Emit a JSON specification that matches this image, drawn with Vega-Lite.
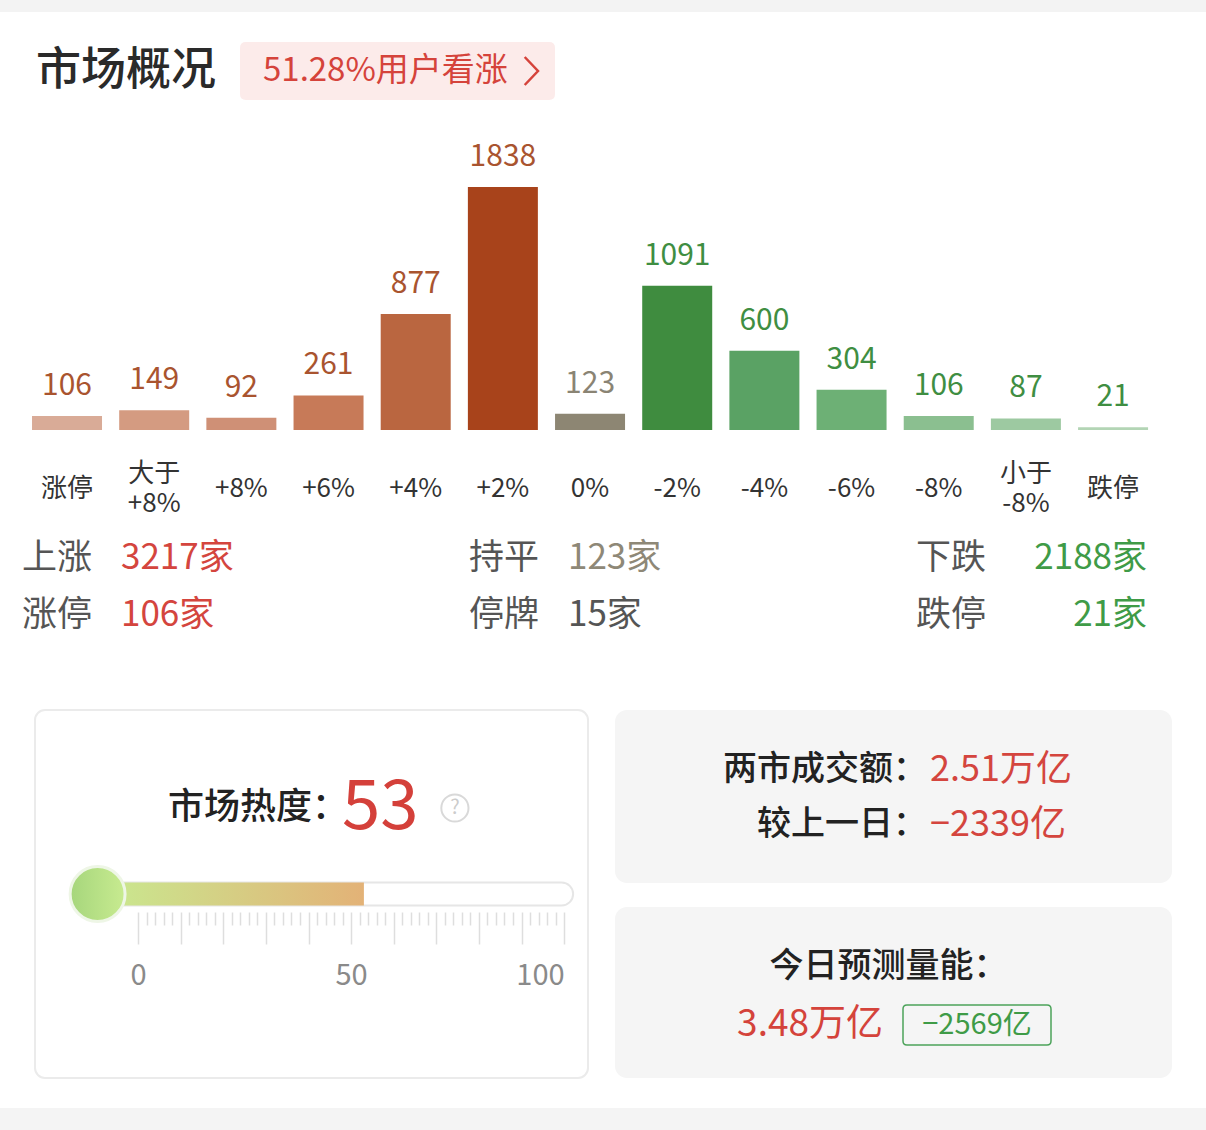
{
  "$schema": "https://vega.github.io/schema/vega-lite/v6.json",
  "background": "white",
  "padding": 0,
  "spacing": 0,
  "bounds": "flush",
  "config": {
    "view": {"stroke": null},
    "font": "Noto Sans CJK SC",
    "text": {"font": "Noto Sans CJK SC"},
    "axis": {"labelFont": "Noto Sans CJK SC"}
  },
  "vconcat": [
    {
      "width": 1206, "height": 12,
      "view": {"fill": "#f3f3f3", "stroke": null},
      "data": {"values": []},
      "mark": "text",
      "encoding": {}
    },
    {
      "width": 1206, "height": 118,
      "data": {"values": [{"标题": "市场概况", "看涨": "51.28%用户看涨"}]},
      "layer": [
        {
          "mark": {"type": "point", "shape": "M-0.962,-0.184H0.962Q1,-0.184 1,-0.146V0.146Q1,0.184 0.962,0.184H-0.962Q-1,0.184 -1,0.146V-0.146Q-1,-0.184 -0.962,-0.184Z", "size": 99225, "filled": true, "color": "#fcebea", "opacity": 1, "xOffset": 134.5},
          "encoding": {
            "x": {"field": "看涨", "type": "nominal", "axis": null, "scale": {"type": "point", "domain": ["市场概况", "51.28%用户看涨"], "range": [36, 263], "padding": 0}}
          }
        },
        {
          "mark": {"type": "text", "align": "left", "baseline": "middle", "fontSize": 33, "color": "#d5433b"},
          "encoding": {"x": {"field": "看涨", "type": "nominal", "axis": null}, "text": {"field": "看涨", "type": "nominal"}}
        },
        {
          "mark": {"type": "point", "shape": "M-0.45,-1L0.5,0L-0.45,1", "size": 784, "filled": false, "stroke": "#d5433b", "strokeWidth": 2.5, "opacity": 1, "xOffset": 268},
          "encoding": {"x": {"field": "看涨", "type": "nominal", "axis": null}}
        },
        {
          "mark": {"type": "text", "align": "left", "baseline": "middle", "fontSize": 45, "fontWeight": 500, "color": "#2a2a2a"},
          "encoding": {"x": {"field": "标题", "type": "nominal", "axis": null}, "text": {"field": "标题", "type": "nominal"}}
        }
      ]
    },
    {
      "width": 1206, "height": 300,
      "data": {"values": [
        {"区间": "涨停", "家数": 106, "方向": "涨"},
        {"区间": "大于 +8%", "家数": 149, "方向": "涨"},
        {"区间": "+8%", "家数": 92, "方向": "涨"},
        {"区间": "+6%", "家数": 261, "方向": "涨"},
        {"区间": "+4%", "家数": 877, "方向": "涨"},
        {"区间": "+2%", "家数": 1838, "方向": "涨"},
        {"区间": "0%", "家数": 123, "方向": "平"},
        {"区间": "-2%", "家数": 1091, "方向": "跌"},
        {"区间": "-4%", "家数": 600, "方向": "跌"},
        {"区间": "-6%", "家数": 304, "方向": "跌"},
        {"区间": "-8%", "家数": 106, "方向": "跌"},
        {"区间": "小于 -8%", "家数": 87, "方向": "跌"},
        {"区间": "跌停", "家数": 21, "方向": "跌"}
      ]},
      "encoding": {
        "x": {
          "field": "区间", "type": "nominal", "sort": null, "title": null,
          "scale": {"paddingInner": 0.197, "paddingOuter": 0.516, "align": 0.356},
          "axis": {
            "labelAngle": 0, "ticks": false, "domain": false, "labelPadding": 58, "labelFontSize": 26, "labelColor": "#333333",
            "labelExpr": "split(datum.label, ' ')", "labelLineHeight": 30,
            "labelBaseline": {"condition": {"test": "indexof(datum.label, ' ') >= 0", "value": "line-bottom"}, "value": "middle"}
          }
        },
        "y": {"field": "家数", "type": "quantitative", "scale": {"domain": [0, 2269], "nice": false}, "axis": null}
      },
      "layer": [
        {
          "mark": {"type": "bar"},
          "encoding": {
            "color": {"field": "区间", "type": "nominal", "legend": null,
              "scale": {
                "domain": ["涨停", "大于 +8%", "+8%", "+6%", "+4%", "+2%", "0%", "-2%", "-4%", "-6%", "-8%", "小于 -8%", "跌停"],
                "range": ["#d9ab97", "#d49b81", "#cf9076", "#c77a58", "#ba6640", "#a8431b", "#8d8673", "#3f8c3f", "#5aa264", "#6db075", "#8bbf90", "#9dc9a1", "#b3d5b5"]
              }}
          }
        },
        {
          "mark": {"type": "text", "baseline": "alphabetic", "dy": -21, "fontSize": 30},
          "encoding": {
            "text": {"field": "家数", "type": "quantitative"},
            "color": {"field": "方向", "type": "nominal", "legend": null,
              "scale": {"domain": ["涨", "平", "跌"], "range": ["#a9542f", "#8a8474", "#3f8e42"]}}
          }
        }
      ],
      "resolve": {"scale": {"color": "independent"}}
    },
    {
      "width": 1206, "height": 280,
      "data": {"values": [
        {"分组": "涨", "类别": "合计", "项目": "上涨", "家数": "3217家"},
        {"分组": "涨", "类别": "极值", "项目": "涨停", "家数": "106家"},
        {"分组": "平", "类别": "合计", "项目": "持平", "家数": "123家"},
        {"分组": "平", "类别": "极值", "项目": "停牌", "家数": "15家"},
        {"分组": "跌", "类别": "合计", "项目": "下跌", "家数": "2188家"},
        {"分组": "跌", "类别": "极值", "项目": "跌停", "家数": "21家"}
      ]},
      "encoding": {
        "x": {"field": "分组", "type": "nominal", "axis": null, "scale": {"type": "point", "domain": ["涨", "平", "跌"], "padding": 0.349, "align": 0.0705}},
        "y": {"field": "类别", "type": "nominal", "axis": null, "scale": {"type": "point", "domain": ["合计", "极值"], "range": [128, 185], "padding": 0}}
      },
      "layer": [
        {
          "mark": {"type": "text", "align": "left", "baseline": "middle", "fontSize": 35, "color": "#555555"},
          "encoding": {"text": {"field": "项目", "type": "nominal"}}
        },
        {
          "transform": [{"filter": {"field": "分组", "oneOf": ["涨", "平"]}}],
          "mark": {"type": "text", "align": "left", "baseline": "middle", "fontSize": 35, "dx": 99},
          "encoding": {
            "text": {"field": "家数", "type": "nominal"},
            "color": {"field": "项目", "type": "nominal", "legend": null,
              "scale": {"domain": ["上涨", "涨停", "持平", "停牌", "下跌", "跌停"], "range": ["#d4453e", "#d4453e", "#8e8877", "#555555", "#3f9b47", "#3f9b47"]}}
          }
        },
        {
          "transform": [{"filter": {"field": "分组", "equal": "跌"}}],
          "mark": {"type": "text", "align": "right", "baseline": "middle", "fontSize": 35, "dx": 231},
          "encoding": {
            "text": {"field": "家数", "type": "nominal"},
            "color": {"field": "项目", "type": "nominal", "legend": null}
          }
        }
      ]
    },
    {
      "spacing": 0,
      "bounds": "full",
      "vconcat": [
        {
          "spacing": 27,
          "bounds": "flush",
          "hconcat": [
            {
              "width": 8, "height": 368,
              "data": {"values": []},
              "mark": "text",
              "encoding": {}
            },
            {
              "width": 553, "height": 368,
              "view": {"fill": "white", "stroke": "#ebebeb", "strokeWidth": 2, "cornerRadius": 10},
              "data": {"values": [{"指标": "市场热度：", "热度": 53, "下限": 0, "上限": 100}]},
              "encoding": {
                "y": {"field": "指标", "type": "nominal", "axis": null}
              },
              "layer": [
                {
                  "mark": {"type": "bar", "height": 23, "cornerRadius": 11.5, "fill": "white", "stroke": "#e6e6e6", "strokeWidth": 2, "xOffset": -40.5, "x2Offset": 9},
                  "encoding": {
                    "x": {"field": "下限", "type": "quantitative",
                      "scale": {"domain": [-24.2, 105.6], "nice": false, "zero": false},
                      "axis": {"values": [0,2,4,6,8,10,12,14,16,18,20,22,24,26,28,30,32,34,36,38,40,42,44,46,48,50,52,54,56,58,60,62,64,66,68,70,72,74,76,78,80,82,84,86,88,90,92,94,96,98,100], "orient": "bottom", "offset": -166, "domain": false, "grid": false, "ticks": true, "title": null, "tickSize": {"condition": {"test": "datum.value % 10 === 0", "value": 32}, "value": 13}, "tickColor": "#dedede", "tickWidth": 1.5, "labelExpr": "datum.value % 50 === 0 ? datum.label : ''", "labelPadding": 31, "labelFontSize": 29, "labelColor": "#8a8a8a", "labelBaseline": "middle", "labelOverlap": false, "labelFlush": 50}},
                    "x2": {"field": "上限"}
                  }
                },
                {
                  "mark": {"type": "bar", "height": 23, "xOffset": -40.5,
                    "color": {"gradient": "linear", "x1": 0, "x2": 1, "y1": 0, "y2": 0, "stops": [{"offset": 0, "color": "#c8ea90"}, {"offset": 1, "color": "#e3b277"}]}},
                  "encoding": {
                    "x": {"field": "下限", "type": "quantitative",
                      "axis": {"values": [0,2,4,6,8,10,12,14,16,18,20,22,24,26,28,30,32,34,36,38,40,42,44,46,48,50,52,54,56,58,60,62,64,66,68,70,72,74,76,78,80,82,84,86,88,90,92,94,96,98,100], "orient": "bottom", "offset": -166, "domain": false, "grid": false, "ticks": true, "title": null, "tickSize": {"condition": {"test": "datum.value % 10 === 0", "value": 32}, "value": 13}, "tickColor": "#dedede", "tickWidth": 1.5, "labelExpr": "datum.value % 50 === 0 ? datum.label : ''", "labelPadding": 31, "labelFontSize": 29, "labelColor": "#8a8a8a", "labelBaseline": "middle", "labelOverlap": false, "labelFlush": 50}},
                    "x2": {"field": "热度"}
                  }
                },
                {
                  "mark": {"type": "point", "shape": "circle", "size": 3019, "filled": true, "opacity": 1, "xOffset": -40.5,
                    "color": {"gradient": "linear", "x1": 0, "x2": 1, "y1": 0, "y2": 0, "stops": [{"offset": 0, "color": "#a6d67c"}, {"offset": 1, "color": "#c8eb90"}]},
                    "stroke": "#eef6e6", "strokeWidth": 3},
                  "encoding": {
                    "x": {"field": "下限", "type": "quantitative",
                      "axis": {"values": [0,2,4,6,8,10,12,14,16,18,20,22,24,26,28,30,32,34,36,38,40,42,44,46,48,50,52,54,56,58,60,62,64,66,68,70,72,74,76,78,80,82,84,86,88,90,92,94,96,98,100], "orient": "bottom", "offset": -166, "domain": false, "grid": false, "ticks": true, "title": null, "tickSize": {"condition": {"test": "datum.value % 10 === 0", "value": 32}, "value": 13}, "tickColor": "#dedede", "tickWidth": 1.5, "labelExpr": "datum.value % 50 === 0 ? datum.label : ''", "labelPadding": 31, "labelFontSize": 29, "labelColor": "#8a8a8a", "labelBaseline": "middle", "labelOverlap": false, "labelFlush": 50}}
                  }
                },
                {
                  "mark": {"type": "text", "align": "right", "baseline": "middle", "fontSize": 36, "fontWeight": 500, "color": "#222222", "dx": -16, "dy": -86},
                  "encoding": {
                    "x": {"field": "热度", "type": "quantitative",
                      "axis": {"values": [0,2,4,6,8,10,12,14,16,18,20,22,24,26,28,30,32,34,36,38,40,42,44,46,48,50,52,54,56,58,60,62,64,66,68,70,72,74,76,78,80,82,84,86,88,90,92,94,96,98,100], "orient": "bottom", "offset": -166, "domain": false, "grid": false, "ticks": true, "title": null, "tickSize": {"condition": {"test": "datum.value % 10 === 0", "value": 32}, "value": 13}, "tickColor": "#dedede", "tickWidth": 1.5, "labelExpr": "datum.value % 50 === 0 ? datum.label : ''", "labelPadding": 31, "labelFontSize": 29, "labelColor": "#8a8a8a", "labelBaseline": "middle", "labelOverlap": false, "labelFlush": 50}},
                    "text": {"field": "指标", "type": "nominal"}
                  }
                },
                {
                  "mark": {"type": "text", "align": "left", "baseline": "middle", "fontSize": 69, "color": "#d4403a", "dx": -22, "dy": -86},
                  "encoding": {
                    "x": {"field": "热度", "type": "quantitative",
                      "axis": {"values": [0,2,4,6,8,10,12,14,16,18,20,22,24,26,28,30,32,34,36,38,40,42,44,46,48,50,52,54,56,58,60,62,64,66,68,70,72,74,76,78,80,82,84,86,88,90,92,94,96,98,100], "orient": "bottom", "offset": -166, "domain": false, "grid": false, "ticks": true, "title": null, "tickSize": {"condition": {"test": "datum.value % 10 === 0", "value": 32}, "value": 13}, "tickColor": "#dedede", "tickWidth": 1.5, "labelExpr": "datum.value % 50 === 0 ? datum.label : ''", "labelPadding": 31, "labelFontSize": 29, "labelColor": "#8a8a8a", "labelBaseline": "middle", "labelOverlap": false, "labelFlush": 50}},
                    "text": {"field": "热度", "type": "quantitative"}
                  }
                },
                {
                  "mark": {"type": "point", "shape": "circle", "size": 740, "filled": false, "stroke": "#d9d9d9", "strokeWidth": 2, "opacity": 1, "xOffset": 91, "yOffset": -86},
                  "encoding": {
                    "x": {"field": "热度", "type": "quantitative",
                      "axis": {"values": [0,2,4,6,8,10,12,14,16,18,20,22,24,26,28,30,32,34,36,38,40,42,44,46,48,50,52,54,56,58,60,62,64,66,68,70,72,74,76,78,80,82,84,86,88,90,92,94,96,98,100], "orient": "bottom", "offset": -166, "domain": false, "grid": false, "ticks": true, "title": null, "tickSize": {"condition": {"test": "datum.value % 10 === 0", "value": 32}, "value": 13}, "tickColor": "#dedede", "tickWidth": 1.5, "labelExpr": "datum.value % 50 === 0 ? datum.label : ''", "labelPadding": 31, "labelFontSize": 29, "labelColor": "#8a8a8a", "labelBaseline": "middle", "labelOverlap": false, "labelFlush": 50}}
                  }
                },
                {
                  "mark": {"type": "text", "text": "?", "align": "center", "baseline": "middle", "fontSize": 20, "color": "#cccccc", "dx": 91, "dy": -86},
                  "encoding": {
                    "x": {"field": "热度", "type": "quantitative",
                      "axis": {"values": [0,2,4,6,8,10,12,14,16,18,20,22,24,26,28,30,32,34,36,38,40,42,44,46,48,50,52,54,56,58,60,62,64,66,68,70,72,74,76,78,80,82,84,86,88,90,92,94,96,98,100], "orient": "bottom", "offset": -166, "domain": false, "grid": false, "ticks": true, "title": null, "tickSize": {"condition": {"test": "datum.value % 10 === 0", "value": 32}, "value": 13}, "tickColor": "#dedede", "tickWidth": 1.5, "labelExpr": "datum.value % 50 === 0 ? datum.label : ''", "labelPadding": 31, "labelFontSize": 29, "labelColor": "#8a8a8a", "labelBaseline": "middle", "labelOverlap": false, "labelFlush": 50}}
                  }
                }
              ]
            },
            {
              "spacing": 24,
              "bounds": "flush",
              "vconcat": [
                {
                  "width": 557, "height": 173,
                  "view": {"fill": "#f5f5f5", "stroke": null, "cornerRadius": 12},
                  "data": {"values": [
                    {"项目": "两市成交额：", "数值": "2.51万亿"},
                    {"项目": "较上一日：", "数值": "−2339亿"}
                  ]},
                  "encoding": {
                    "y": {"field": "项目", "type": "nominal", "axis": null, "sort": null, "scale": {"type": "point", "range": [60, 115], "padding": 0}}
                  },
                  "layer": [
                    {
                      "mark": {"type": "text", "align": "right", "baseline": "middle", "fontSize": 34, "fontWeight": 500, "color": "#222222", "dx": 33.5},
                      "encoding": {"text": {"field": "项目", "type": "nominal"}}
                    },
                    {
                      "mark": {"type": "text", "align": "left", "baseline": "middle", "fontSize": 36, "dx": 36.5},
                      "encoding": {
                        "text": {"field": "数值", "type": "nominal"},
                        "color": {"field": "项目", "type": "nominal", "legend": null,
                          "scale": {"domain": ["两市成交额：", "较上一日："], "range": ["#d4433b", "#3f9b47"]}}
                      }
                    }
                  ]
                },
                {
                  "width": 557, "height": 171,
                  "view": {"fill": "#f5f5f5", "stroke": null, "cornerRadius": 12},
                  "data": {"values": [{"项目": "今日预测量能：", "预测": "3.48万亿", "变化": "−2569亿"}]},
                  "layer": [
                    {
                      "mark": {"type": "text", "align": "center", "baseline": "middle", "fontSize": 34, "fontWeight": 500, "color": "#222222", "dx": -5},
                      "encoding": {
                        "y": {"field": "项目", "type": "nominal", "axis": null,
                          "scale": {"type": "point", "domain": ["今日预测量能：", "3.48万亿"], "range": [60, 118], "padding": 0}},
                        "text": {"field": "项目", "type": "nominal"}
                      }
                    },
                    {
                      "mark": {"type": "text", "align": "right", "baseline": "middle", "fontSize": 37, "color": "#d4433b", "dx": -10.5},
                      "encoding": {"y": {"field": "预测", "type": "nominal", "axis": null}, "text": {"field": "预测", "type": "nominal"}}
                    },
                    {
                      "mark": {"type": "point", "shape": "M-0.946,-0.27H0.946Q1,-0.27 1,-0.216V0.216Q1,0.27 0.946,0.27H-0.946Q-1,0.27 -1,0.216V-0.216Q-1,-0.27 -0.946,-0.27Z", "size": 21904, "filled": false, "stroke": "#4ca35a", "strokeWidth": 1.5, "opacity": 1, "xOffset": 83.5},
                      "encoding": {"y": {"field": "预测", "type": "nominal", "axis": null}}
                    },
                    {
                      "mark": {"type": "text", "align": "center", "baseline": "middle", "fontSize": 29, "color": "#3f9b47", "dx": 83.5},
                      "encoding": {"y": {"field": "预测", "type": "nominal", "axis": null}, "text": {"field": "变化", "type": "nominal"}}
                    }
                  ]
                }
              ]
            }
          ]
        },
        {
          "width": 1206, "height": 29,
          "view": {"fill": "white", "stroke": null},
          "data": {"values": []},
          "mark": "text",
          "encoding": {}
        },
        {
          "width": 1206, "height": 22,
          "view": {"fill": "#f4f4f4", "stroke": null},
          "data": {"values": []},
          "mark": "text",
          "encoding": {}
        }
      ]
    }
  ]
}
